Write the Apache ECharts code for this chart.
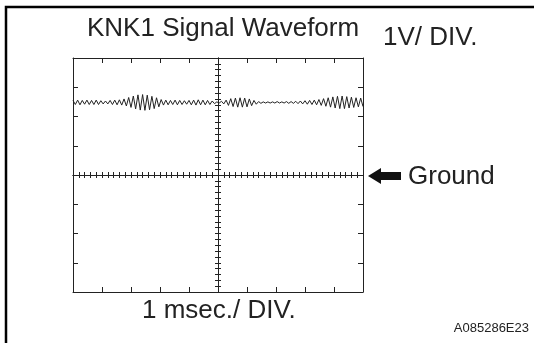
<!DOCTYPE html>
<html>
<head>
<meta charset="utf-8">
<script src="https://cdn.jsdelivr.net/npm/echarts@6/dist/echarts.min.js"></script>
<style>
  html, body { margin: 0; padding: 0; background: #fff; }
  #chart { width: 534px; height: 343px; }
</style>
</head>
<body>
<div id="chart"></div>
<script>
// scope settings
const chartTitle = 'KNK1 Signal Waveform';
const voltLabel = '1V/ DIV.';
const timeLabel = '1 msec./ DIV.';
const groundLabel = 'Ground';
const figureCode = 'A085286E23';

const timeDivs = [0, 10];      // msec
const voltDivs = [-4, 4];      // V, ground at 0
const sampleStep = 0.08;       // msec between samples

// KNK1 signal (V), one value per sample
const knkVolts = [
  2.55, 2.41, 2.56, 2.40, 2.55, 2.42, 2.56, 2.41, 2.55, 2.41,
  2.56, 2.41, 2.54, 2.43, 2.53, 2.43, 2.55, 2.41, 2.56, 2.40,
  2.57, 2.39, 2.60, 2.36, 2.65, 2.31, 2.70, 2.26, 2.74, 2.22,
  2.75, 2.21, 2.73, 2.23, 2.69, 2.27, 2.64, 2.33, 2.58, 2.39,
  2.56, 2.40, 2.55, 2.41, 2.56, 2.40, 2.55, 2.41, 2.54, 2.42,
  2.55, 2.40, 2.56, 2.39, 2.57, 2.40, 2.56, 2.40, 2.55, 2.41,
  2.53, 2.44, 2.50, 2.46, 2.52, 2.43, 2.56, 2.38, 2.61, 2.34,
  2.63, 2.32, 2.64, 2.32, 2.63, 2.33, 2.60, 2.37, 2.55, 2.42,
  2.51, 2.45, 2.50, 2.46, 2.50, 2.46, 2.50, 2.46, 2.51, 2.46,
  2.50, 2.46, 2.51, 2.45, 2.51, 2.45, 2.52, 2.44, 2.53, 2.43,
  2.54, 2.42, 2.55, 2.41, 2.56, 2.40, 2.58, 2.38, 2.61, 2.35,
  2.64, 2.32, 2.67, 2.29, 2.69, 2.27, 2.70, 2.27, 2.68, 2.29,
  2.66, 2.31, 2.64, 2.33, 2.63, 2.34
];

const ink = '#222';
const font = 'Liberation Sans, Arial, sans-serif';

let chartDom = document.getElementById('chart');
let myChart = echarts.init(chartDom, null, { renderer: 'canvas' });

let traceData = knkVolts.map(function (v, i) {
  return [+(i * sampleStep).toFixed(2), v];
});

// border axes: just a frame with short inward ticks at each division
function frameX(position) {
  return {
    type: 'value', position: position, min: timeDivs[0], max: timeDivs[1], interval: 1,
    axisLine: { show: true, onZero: false, lineStyle: { color: ink, width: 1 } },
    axisTick: { show: true, inside: true, length: 5, lineStyle: { color: ink } },
    axisLabel: { show: false }, splitLine: { show: false }
  };
}
function frameY(position) {
  return {
    type: 'value', position: position, min: voltDivs[0], max: voltDivs[1], interval: 1,
    axisLine: { show: true, onZero: false, lineStyle: { color: ink, width: 1 } },
    axisTick: { show: true, inside: true, length: 5, lineStyle: { color: ink } },
    axisLabel: { show: false }, splitLine: { show: false }
  };
}
// centre cross lines with fine graduations on both sides
function crossX(inside) {
  return {
    type: 'value', position: 'bottom', min: timeDivs[0], max: timeDivs[1], interval: 1,
    axisLine: { show: true, onZero: true, onZeroAxisIndex: 0, lineStyle: { color: ink, width: 1 } },
    axisTick: { show: true, inside: inside, length: 3, lineStyle: { color: ink } },
    minorTick: { show: true, splitNumber: 5, length: 3, lineStyle: { color: ink } },
    axisLabel: { show: false }, splitLine: { show: false }
  };
}
function crossY(inside) {
  return {
    type: 'value', position: 'left', min: voltDivs[0], max: voltDivs[1], interval: 1,
    axisLine: { show: true, onZero: true, onZeroAxisIndex: 4, lineStyle: { color: ink, width: 1 } },
    axisTick: { show: true, inside: inside, length: 3, lineStyle: { color: ink } },
    minorTick: { show: true, splitNumber: 5, length: 3, lineStyle: { color: ink } },
    axisLabel: { show: false }, splitLine: { show: false }
  };
}

let option = {
  backgroundColor: '#fff',
  animation: false,
  grid: { left: 73, top: 58, width: 290, height: 234, containLabel: false },
  xAxis: [
    frameX('bottom'),
    frameX('top'),
    crossX(true),
    crossX(false),
    // helper axis centred on the screen, only used to place the vertical line
    { type: 'value', show: false, min: -5, max: 5, axisLine: { onZero: false } }
  ],
  yAxis: [
    frameY('left'),
    frameY('right'),
    crossY(true),
    crossY(false)
  ],
  series: [{
    name: 'KNK1',
    type: 'line',
    xAxisIndex: 0,
    yAxisIndex: 0,
    showSymbol: false,
    symbol: 'none',
    lineStyle: { color: ink, width: 1 },
    data: traceData
  }],
  graphic: [
    {
      type: 'rect', silent: true,
      shape: { x: 6, y: 7, width: 600, height: 400 },
      style: { fill: 'none', stroke: '#000', lineWidth: 2.5 }
    },
    {
      type: 'text', left: 87, top: 16,
      style: { text: chartTitle, fill: ink, font: '26px ' + font }
    },
    {
      type: 'text', left: 383, top: 25,
      style: { text: voltLabel, fill: ink, font: '26px ' + font }
    },
    {
      type: 'polygon', silent: true,
      shape: { points: [[368, 176], [381, 168], [381, 172], [401, 172], [401, 180], [381, 180], [381, 184]] },
      style: { fill: '#111' }
    },
    {
      type: 'text', left: 408, top: 164,
      style: { text: groundLabel, fill: ink, font: '26px ' + font }
    },
    {
      type: 'text', left: 142, top: 298,
      style: { text: timeLabel, fill: ink, font: '26px ' + font }
    },
    {
      type: 'text', right: 5, top: 322,
      style: { text: figureCode, fill: ink, font: '13px ' + font }
    }
  ]
};

myChart.setOption(option);
</script>
</body>
</html>
